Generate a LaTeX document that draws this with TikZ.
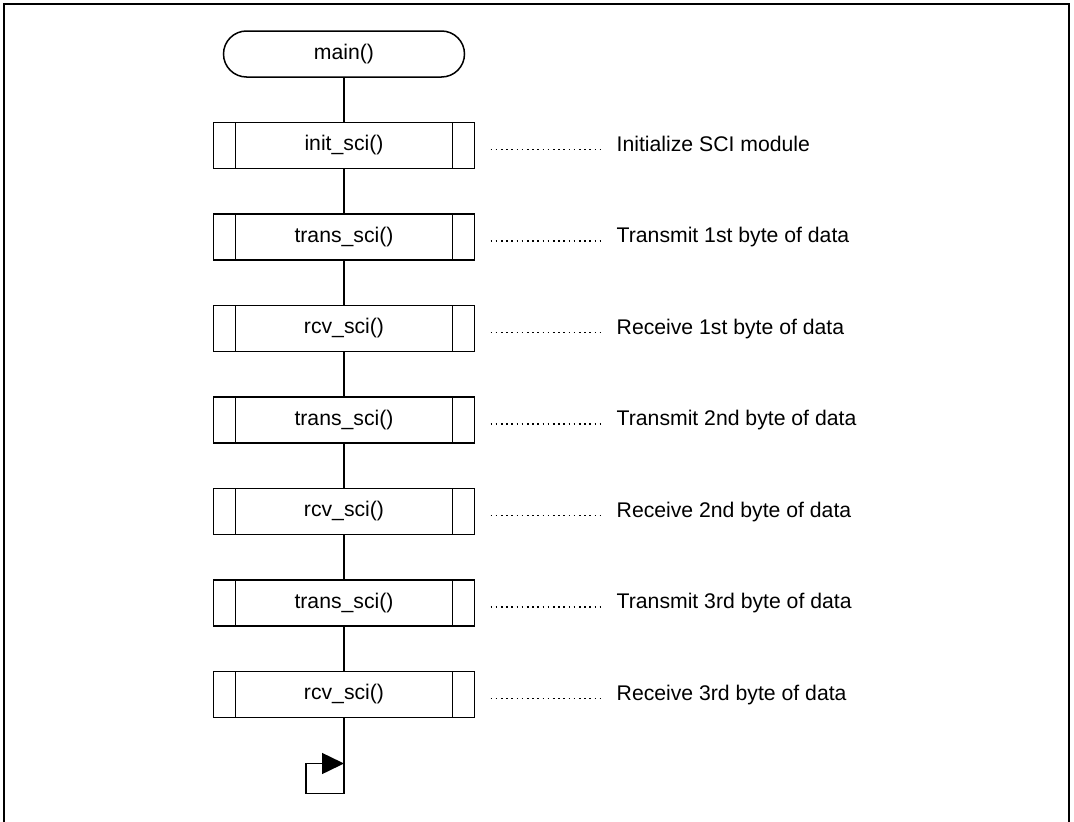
\documentclass[tikz,border=0pt]{standalone}
\usepackage{fontspec}
\setmainfont{Liberation Sans}
\usetikzlibrary{shapes.misc,arrows.meta,positioning}
\tikzset{
  basebox/.style={draw=black,line width=1.5pt,outer sep=0pt,inner sep=0pt,align=center,font=\fontsize{21.2}{25}\selectfont},
  termnode/.style={basebox,rounded rectangle,minimum width=241pt,minimum height=46pt},
  subnode/.style={basebox,rectangle,minimum width=261pt,minimum height=46pt,
    path picture={\draw[line width=1.5pt]
      ([xshift=22pt]path picture bounding box.north west) -- ([xshift=22pt]path picture bounding box.south west)
      ([xshift=-22pt]path picture bounding box.north east) -- ([xshift=-22pt]path picture bounding box.south east);}},
  notenode/.style={anchor=west,inner xsep=2pt,inner ysep=0pt,text height=15pt,text depth=4pt,font=\fontsize{21.2}{25}\selectfont},
  conn/.style={line width=1.5pt},
  dotline/.style={line width=1.7pt,dash pattern=on 1.6pt off 3.6pt},
  frameline/.style={line width=2pt},
  looparr/.style={line width=1.5pt,-{Triangle[length=22pt,width=21pt]}}
}
\begin{document}
\begin{tikzpicture}[x=1pt,y=1pt,node distance=45.5pt and 140pt]
  \useasboundingbox (0,0) rectangle (1074,-822);
  \draw[frameline] (3.5,-840) -- (3.5,-3.5) -- (1068.5,-3.5) -- (1068.5,-840);

  \node[termnode] (main) at (344,-54) {main()};
  \node[subnode,below=of main] (b1) {init\_sci()};
  \node[subnode,below=of b1] (b2) {trans\_sci()};
  \node[subnode,below=of b2] (b3) {rcv\_sci()};
  \node[subnode,below=of b3] (b4) {trans\_sci()};
  \node[subnode,below=of b4] (b5) {rcv\_sci()};
  \node[subnode,below=of b5] (b6) {trans\_sci()};
  \node[subnode,below=of b6] (b7) {rcv\_sci()};

  \node[notenode,right=of b1] (n1) {Initialize SCI module};
  \node[notenode,right=of b2] (n2) {Transmit 1st byte of data};
  \node[notenode,right=of b3] (n3) {Receive 1st byte of data};
  \node[notenode,right=of b4] (n4) {Transmit 2nd byte of data};
  \node[notenode,right=of b5] (n5) {Receive 2nd byte of data};
  \node[notenode,right=of b6] (n6) {Transmit 3rd byte of data};
  \node[notenode,right=of b7] (n7) {Receive 3rd byte of data};

  \draw[conn] (main.south) -- (b1.north);
  \draw[conn] (b1.south) -- (b2.north);
  \draw[conn] (b2.south) -- (b3.north);
  \draw[conn] (b3.south) -- (b4.north);
  \draw[conn] (b4.south) -- (b5.north);
  \draw[conn] (b5.south) -- (b6.north);
  \draw[conn] (b6.south) -- (b7.north);

  \draw[dotline] ([xshift=16pt,yshift=1.5pt]b1.east |- n1.base) -- ([xshift=-10pt,yshift=1.5pt]n1.base west);
  \draw[dotline] ([xshift=16pt,yshift=1.5pt]b2.east |- n2.base) -- ([xshift=-10pt,yshift=1.5pt]n2.base west);
  \draw[dotline] ([xshift=16pt,yshift=1.5pt]b3.east |- n3.base) -- ([xshift=-10pt,yshift=1.5pt]n3.base west);
  \draw[dotline] ([xshift=16pt,yshift=1.5pt]b4.east |- n4.base) -- ([xshift=-10pt,yshift=1.5pt]n4.base west);
  \draw[dotline] ([xshift=16pt,yshift=1.5pt]b5.east |- n5.base) -- ([xshift=-10pt,yshift=1.5pt]n5.base west);
  \draw[dotline] ([xshift=16pt,yshift=1.5pt]b6.east |- n6.base) -- ([xshift=-10pt,yshift=1.5pt]n6.base west);
  \draw[dotline] ([xshift=16pt,yshift=1.5pt]b7.east |- n7.base) -- ([xshift=-10pt,yshift=1.5pt]n7.base west);

  \coordinate (lpb) at ([yshift=-76pt]b7.south);
  \coordinate (lpl) at ([xshift=-38pt]lpb);
  \coordinate (lpt) at ([yshift=30pt]lpl);
  \draw[looparr] (b7.south) -- (lpb) -- (lpl) -- (lpt) -- (lpt -| b7.south);
\end{tikzpicture}
\end{document}
